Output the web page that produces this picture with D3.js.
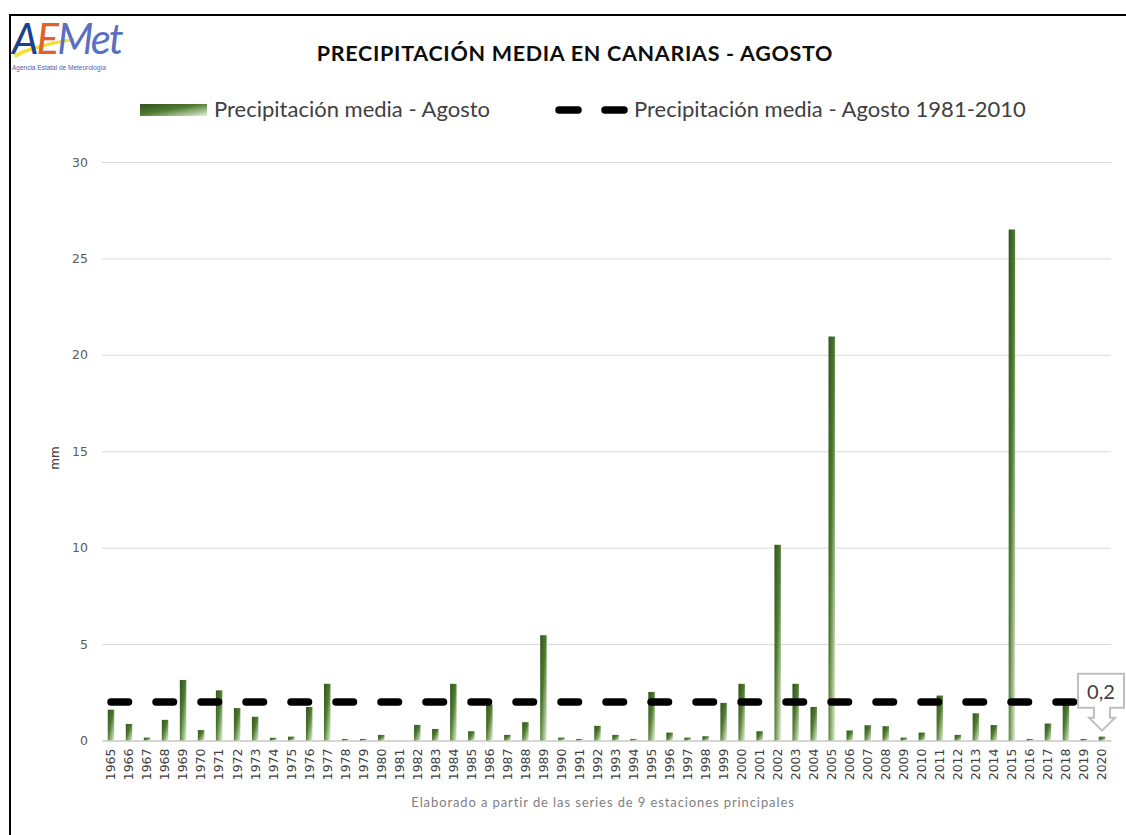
<!DOCTYPE html>
<html>
<head>
  <meta charset="utf-8">
  <title>Precipitación media en Canarias - Agosto</title>
  <script src="https://d3js.org/d3.v7.min.js"></script>
  <style>
    body { margin: 0; background: #fff; }
  </style>
</head>
<body>
  <div id="my_dataviz"></div>
  <script>
  // data
  var years = d3.range(1965, 2021).map(String);
  var precip = [1.6, 0.86, 0.15, 1.07, 3.14, 0.54, 2.6, 1.68, 1.23, 0.14,
                0.2, 1.74, 2.94, 0.08, 0.08, 0.29, 0.0, 0.81, 0.6, 2.94,
                0.48, 1.86, 0.29, 0.95, 5.46, 0.15, 0.08, 0.76, 0.29, 0.08,
                2.52, 0.41, 0.15, 0.22, 1.95, 2.94, 0.48, 10.15, 2.94, 1.74,
                20.95, 0.52, 0.79, 0.74, 0.15, 0.41, 2.33, 0.29, 1.41, 0.8,
                26.5, 0.08, 0.88, 2.0, 0.08, 0.2];
  var normal = 2.0;   // media 1981-2010
  var yTicks = [0, 5, 10, 15, 20, 25, 30];
  var seriesNames = ["Precipitación media - Agosto", "Precipitación media - Agosto 1981-2010"];
  var calloutYear = "2020", calloutText = "0,2";

  var W = 1126, H = 835;
  var margin = {top: 162, right: 15, bottom: 94.5, left: 102};
  var width = W - margin.left - margin.right,
      height = H - margin.top - margin.bottom;

  var root = d3.select("#my_dataviz").append("svg")
      .attr("width", W).attr("height", H);

  // gradient for the bars
  var defs = root.append("defs");
  var grad = defs.append("linearGradient").attr("id", "barGrad")
      .attr("x1", 0).attr("y1", 0).attr("x2", 1).attr("y2", 1);
  grad.append("stop").attr("offset", "0%").attr("stop-color", "#33531f");
  grad.append("stop").attr("offset", "45%").attr("stop-color", "#4e7a2f");
  grad.append("stop").attr("offset", "100%").attr("stop-color", "#e4f2d8");

  // outer frame
  root.append("rect")
    .attr("x", 10).attr("y", 15).attr("width", W).attr("height", H)
    .attr("fill", "none").attr("stroke", "#000").attr("stroke-width", 2);

  // logo
  var logo = root.append("g").attr("transform", "translate(12,18)");
  logo.append("path")
    .attr("d", "M2,36 C14,30 34,24 62,20 L62,23 C36,27 16,33 3,40 Z")
    .attr("fill", "#f3e13b");
  var lt = logo.append("text").attr("x", 0).attr("y", 36)
    .style("font-family", "Lato, sans-serif").style("font-size", "42px")
    .style("font-style", "italic").style("letter-spacing", "-2px");
  lt.append("tspan").text("A").attr("fill", "#1d3f8f");
  lt.append("tspan").text("E").attr("fill", "#e0622a");
  lt.append("tspan").text("Met").attr("fill", "#5b6fc2");
  logo.append("text").attr("x", 0).attr("y", 52)
    .text("Agencia Estatal de Meteorología")
    .style("font-family", "Liberation Sans, sans-serif").style("font-size", "6.5px")
    .attr("fill", "#4b60b5");

  // title
  root.append("text")
    .attr("x", 575).attr("y", 61)
    .attr("text-anchor", "middle")
    .text("PRECIPITACIÓN MEDIA EN CANARIAS - AGOSTO")
    .style("font-family", "Lato, sans-serif").style("font-weight", "bold")
    .style("font-size", "21.5px").style("letter-spacing", "0.7px")
    .attr("fill", "#0d0d0d");

  var svg = root.append("g")
    .attr("transform", "translate(" + margin.left + "," + margin.top + ")");

  // scales
  var x = d3.scaleBand().domain(years).range([0, width])
    .paddingInner(0.64).paddingOuter(0.32);
  var y = d3.scaleLinear().domain([0, 30]).range([height, 0]);

  // Y axis + gridlines
  var yAxis = svg.append("g")
    .call(d3.axisLeft(y).tickValues(yTicks).tickSize(-width).tickPadding(14));
  yAxis.select(".domain").remove();
  yAxis.selectAll(".tick line").attr("stroke", "#d9d9d9").attr("stroke-width", 1);
  yAxis.selectAll(".tick text")
    .style("font-family", "DejaVu Sans, sans-serif").style("font-size", "12.5px")
    .attr("fill", "#595959");

  // X axis
  var xAxis = svg.append("g")
    .attr("transform", "translate(0," + height + ")")
    .call(d3.axisBottom(x).tickSize(0));
  xAxis.select(".domain").attr("stroke", "#bfbfbf");
  xAxis.selectAll(".tick text")
    .attr("transform", "rotate(-90)")
    .attr("text-anchor", "end")
    .attr("x", -8).attr("y", 0).attr("dy", "0.35em")
    .style("font-family", "DejaVu Sans, sans-serif").style("font-size", "12.5px")
    .attr("fill", "#404040");

  // bars
  svg.append("g").selectAll("rect")
    .data(years)
    .enter().append("rect")
      .attr("x", function(d) { return x(d); })
      .attr("width", x.bandwidth())
      .attr("y", function(d, i) { return y(precip[i]); })
      .attr("height", function(d, i) { return height - y(precip[i]); })
      .attr("fill", "url(#barGrad)");

  // normal line
  var half = x.bandwidth() / 2;
  svg.append("line")
    .attr("x1", x(years[0]) + half).attr("x2", x(years[years.length - 1]) + half)
    .attr("y1", y(normal)).attr("y2", y(normal))
    .attr("stroke", "#000").attr("stroke-width", 7.5)
    .attr("stroke-linecap", "round")
    .attr("stroke-dasharray", "17.5,27.5");

  // callout on the last value
  var cx = x(calloutYear) + half,
      cy = y(precip[years.indexOf(calloutYear)]) - 6;
  var call = svg.append("g").attr("transform", "translate(" + cx + "," + cy + ")");
  call.append("path")
    .attr("d", "M-24,-57 L22,-57 L22,-23 L8,-23 L8,-13 L13,-13 L0,0 L-13,-13 L-8,-13 L-8,-23 L-24,-23 Z")
    .attr("fill", "#fff").attr("stroke", "#bfbfbf").attr("stroke-width", 2);
  call.append("text").attr("x", -1).attr("y", -32)
    .attr("text-anchor", "middle").text(calloutText)
    .style("font-family", "Lato, sans-serif").style("font-size", "20px")
    .attr("fill", "#404040");

  // "mm" axis label
  svg.append("text")
    .attr("transform", "rotate(-90)")
    .attr("x", -296).attr("y", -43)
    .attr("text-anchor", "middle")
    .text("mm")
    .style("font-family", "DejaVu Sans, sans-serif").style("font-size", "12px")
    .attr("fill", "#404040");

  // footer note
  root.append("text")
    .attr("x", 603).attr("y", 807)
    .attr("text-anchor", "middle")
    .text("Elaborado a partir de las series de 9 estaciones principales")
    .style("font-family", "Lato, sans-serif").style("font-size", "13px")
    .style("letter-spacing", "0.9px")
    .attr("fill", "#7f7f7f");

  // legend
  var leg = root.append("g");
  leg.append("rect").attr("x", 140).attr("y", 104).attr("width", 67).attr("height", 12)
    .attr("fill", "url(#barGrad)");
  leg.append("text").attr("x", 214).attr("y", 117).text(seriesNames[0])
    .style("font-family", "Lato, sans-serif").style("font-size", "22px")
    .attr("fill", "#404040");
  leg.append("line").attr("x1", 559).attr("x2", 624).attr("y1", 110).attr("y2", 110)
    .attr("stroke", "#000").attr("stroke-width", 7.5)
    .attr("stroke-linecap", "round").attr("stroke-dasharray", "19,27");
  leg.append("text").attr("x", 634).attr("y", 117).text(seriesNames[1])
    .style("font-family", "Lato, sans-serif").style("font-size", "22px")
    .attr("fill", "#404040");
  </script>
</body>
</html>
